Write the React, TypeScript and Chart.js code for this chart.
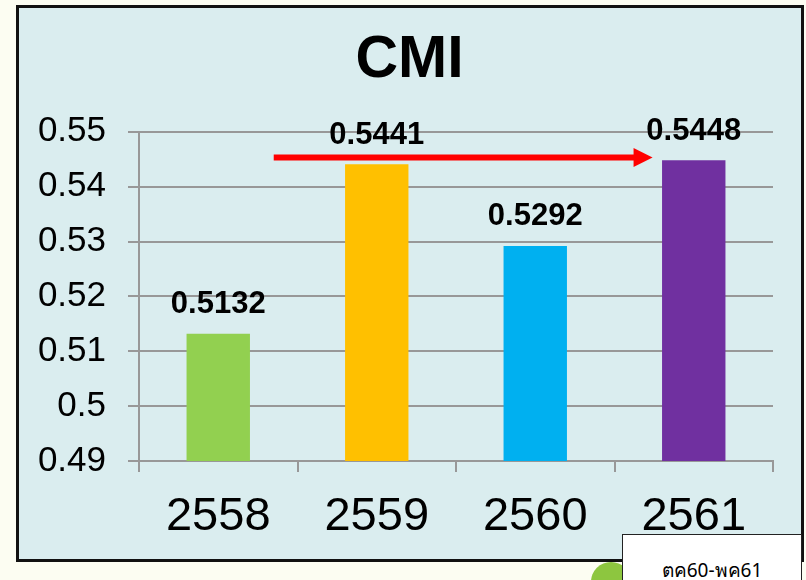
import React, { useEffect, useRef } from 'react';
import { Chart, registerables } from 'chart.js';

Chart.register(...registerables);

const categories = ['2558', '2559', '2560', '2561'];
const cmiValues = [0.5132, 0.5441, 0.5292, 0.5448];
const barColors = ['#92D050', '#FFC000', '#00B0F0', '#7030A0'];
const yMin = 0.49;
const yMax = 0.55;
const yStep = 0.01;
const titleText = 'CMI';
const periodNote = 'ตค60-พค61';
// red trend arrow: from a point between the first two categories to just before the last bar
const arrowFrom = 0.35;
const arrowTo = 2.74;
const arrowLevel = 0.5453;

const FONT = '"Liberation Sans", Arial, Helvetica, sans-serif';
const GRID = '#989898';

const labelPlugin = {
  id: 'valueLabels',
  afterLayout(chart: any) {
    // the title in the reference is centred over the boxed panel, not the full canvas
    if (chart.titleBlock) {
      chart.titleBlock.left = 46;
    }
  },
  afterDatasetsDraw(chart: any) {
    const ctx = chart.ctx;
    const meta = chart.getDatasetMeta(0);
    ctx.save();
    ctx.font = `bold 31px ${FONT}`;
    ctx.fillStyle = '#000';
    ctx.textAlign = 'center';
    ctx.textBaseline = 'middle';
    meta.data.forEach((el: any, i: number) => {
      ctx.fillText(cmiValues[i].toFixed(4), el.x, el.y - 29);
    });
    const xs = chart.scales.x;
    const ys = chart.scales.y;
    const x0 = xs.getPixelForValue(arrowFrom);
    const x1 = xs.getPixelForValue(arrowTo);
    const y = ys.getPixelForValue(arrowLevel);
    ctx.strokeStyle = '#FF0000';
    ctx.fillStyle = '#FF0000';
    ctx.lineWidth = 6;
    ctx.beginPath();
    ctx.moveTo(x0, y);
    ctx.lineTo(x1 - 17, y);
    ctx.stroke();
    ctx.beginPath();
    ctx.moveTo(x1, y);
    ctx.lineTo(x1 - 19, y - 9.5);
    ctx.lineTo(x1 - 19, y + 9.5);
    ctx.closePath();
    ctx.fill();
    ctx.restore();
  },
};

export default function App() {
  const ref = useRef<HTMLCanvasElement>(null);

  useEffect(() => {
    document.body.style.margin = '0';
    const chart = new Chart(ref.current as HTMLCanvasElement, {
      type: 'bar',
      data: {
        labels: categories,
        datasets: [
          {
            data: cmiValues,
            backgroundColor: barColors,
            barPercentage: 0.4,
            categoryPercentage: 1,
          },
        ],
      },
      options: {
        responsive: false,
        animation: false,
        layout: { padding: { left: 0, right: 33, top: 0, bottom: 0 } },
        plugins: {
          legend: { display: false },
          tooltip: { enabled: false },
          title: {
            display: true,
            text: titleText,
            color: '#000',
            font: { family: FONT, size: 59, weight: 'bold', lineHeight: 1.2 },
            padding: { top: 25, bottom: 36 },
          },
        },
        scales: {
          x: {
            grid: {
              display: true,
              drawOnChartArea: false,
              drawTicks: true,
              tickLength: 11,
              color: GRID,
              lineWidth: 2,
              offset: true,
            },
            border: { display: true, color: GRID, width: 2 },
            ticks: { color: '#000', font: { family: FONT, size: 47 }, padding: 17 },
            afterFit: (s: any) => {
              s.height = 119;
            },
          },
          y: {
            min: yMin,
            max: yMax,
            grid: { color: GRID, lineWidth: 2, tickLength: 11, drawTicks: true },
            border: { display: true, color: GRID, width: 2 },
            ticks: {
              stepSize: yStep,
              color: '#000',
              font: { family: FONT, size: 35 },
              padding: 22,
              callback: (v: any) => String(parseFloat(Number(v).toFixed(2))),
            },
            afterFit: (s: any) => {
              s.width = 139;
            },
          },
        },
      } as any,
      plugins: [labelPlugin],
    });
    return () => chart.destroy();
  }, []);

  return (
    <div
      style={{
        position: 'relative',
        width: 806,
        height: 580,
        overflow: 'hidden',
        background: '#FCFDF2',
      }}
    >
      <div
        style={{
          position: 'absolute',
          left: 16,
          top: 5,
          width: 782,
          height: 551,
          border: '3px solid #111',
          background: '#DAEDEF',
        }}
      />
      <div
        style={{
          position: 'absolute',
          left: 591,
          top: 562,
          width: 40,
          height: 40,
          borderRadius: '50%',
          background: '#8DC63F',
        }}
      />
      <canvas
        ref={ref}
        width={806}
        height={580}
        style={{ position: 'absolute', left: 0, top: 0 }}
      />
      <div
        style={{
          position: 'absolute',
          left: 622,
          top: 534,
          width: 180,
          height: 60,
          boxSizing: 'border-box',
          background: '#fff',
          border: '1px solid #222',
          textAlign: 'center',
          paddingTop: 23,
          lineHeight: '24px',
          fontSize: 19,
          fontFamily: '"Noto Sans", "DejaVu Sans", sans-serif',
          color: '#000',
        }}
      >
        {periodNote}
      </div>
    </div>
  );
}
